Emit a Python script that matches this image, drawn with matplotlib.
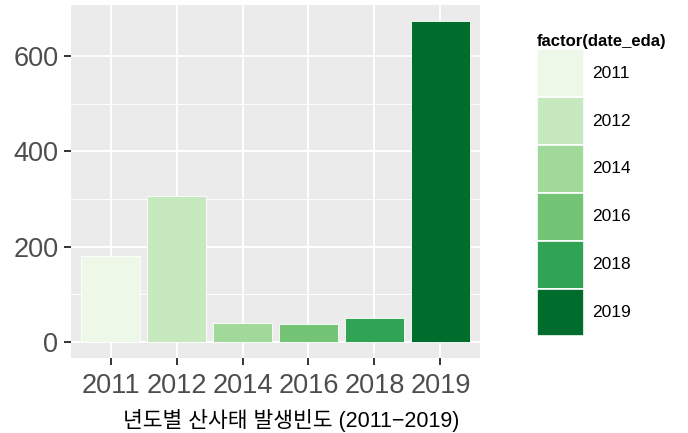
import numpy as np
from matplotlib import pyplot as plt
from matplotlib.patches import Patch

years = ["2011", "2012", "2014", "2016", "2018", "2019"]
counts = [181, 306, 40, 37, 50, 673]
colors = ["#EDF8E9", "#C7E9C0", "#A1D99B", "#74C476", "#31A354", "#006D2C"]
yticks = [0, 200, 400, 600]
xlabel = "년도별 산사태 발생빈도 (2011−2019)"

plt.rcParams['font.family'] = ['Liberation Sans', 'Noto Sans CJK KR', 'DejaVu Sans']

fig = plt.figure(figsize=(6.88, 4.33), dpi=100)
ax = fig.add_axes([71/688, 1-358/433, 409/688, 353/433])

x = np.arange(1, len(years)+1)
ax.bar(x, counts, width=0.9, color=colors, edgecolor="white", linewidth=0.6, zorder=3)

top = max(counts)
ax.set_xlim(0.4, len(years)+0.6)
ax.set_ylim(-0.05*top, 1.05*top)

ax.set_facecolor("#EBEBEB")
for s in ax.spines.values():
    s.set_visible(False)
ax.set_yticks(yticks)
ax.set_yticks([100, 300, 500], minor=True)
ax.set_xticks(x)
ax.set_xticklabels(years)
ax.grid(True, which="major", color="white", linewidth=1.4, zorder=1)
ax.grid(True, which="minor", axis="y", color="white", linewidth=0.7, zorder=1)
ax.tick_params(axis="both", which="major", length=5, width=1.4, color="#333333",
               labelsize=19.5, labelcolor="#4D4D4D", pad=4)
ax.tick_params(axis="x", which="major", pad=6)
ax.tick_params(axis="y", which="minor", length=0)

ax.set_xlabel(xlabel, fontsize=15.5, color="black")
ax.xaxis.label.set_va("baseline")
ax.xaxis.set_label_coords(0.538, -0.195)

handles = [Patch(facecolor=c, edgecolor="white", linewidth=1.2, label=y) for c, y in zip(colors, years)]
leg = fig.legend(handles=handles, loc="upper left", bbox_to_anchor=(530/688, 1-27/433),
                 title="factor(date_eda)", frameon=False, fontsize=12.5,
                 handlelength=2.7, handleheight=3.87, handletextpad=0.5,
                 labelspacing=0.0, borderaxespad=0, alignment="left")
leg.get_title().set_fontweight("bold")
leg.get_title().set_fontsize(12)

fig.savefig("out.png", dpi=100)
